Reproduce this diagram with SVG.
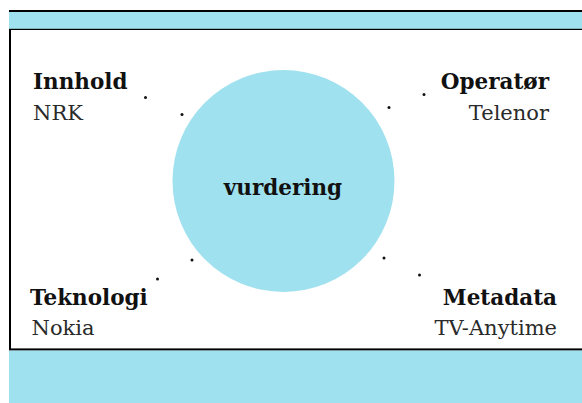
<svg xmlns="http://www.w3.org/2000/svg" width="582" height="403" viewBox="0 0 582 403">
<style>
.band{fill:#9fe1ef}
.edge{fill:#000}
.b{font-family:"DejaVu Serif","Liberation Serif",serif;font-weight:bold;font-size:21.5px;fill:#111}
.r{font-family:"DejaVu Serif","Liberation Serif",serif;font-size:21px;fill:#2a2a2a}
.dot{fill:#111}
</style>
<rect width="582" height="403" fill="#fff"/>
<g id="frame">
<rect class="edge" x="9" y="10" width="573" height="2"/>
<rect class="band" x="9" y="12" width="573" height="17"/>
<rect class="edge" x="9" y="28.8" width="573" height="1.2"/>
<rect class="edge" x="9" y="29" width="2" height="321"/>
<rect class="edge" x="9" y="348.4" width="573" height="2.2"/>
<rect class="band" x="9" y="350.6" width="573" height="52.4"/>
</g>
<g id="connectors">
<circle class="dot" cx="145.5" cy="97.5" r="1.5"/>
<circle class="dot" cx="182" cy="114.5" r="1.5"/>
<circle class="dot" cx="389" cy="107.5" r="1.5"/>
<circle class="dot" cx="424" cy="94.5" r="1.5"/>
<circle class="dot" cx="192" cy="260" r="1.5"/>
<circle class="dot" cx="157.5" cy="279" r="1.5"/>
<circle class="dot" cx="384" cy="258" r="1.5"/>
<circle class="dot" cx="419.5" cy="275" r="1.5"/>
</g>
<g id="vurdering">
<circle cx="283.5" cy="181" r="111" fill="#a0e1ef"/>
<text class="b" x="283" y="195" text-anchor="middle">vurdering</text>
</g>
<g id="innhold">
<text class="b" x="33" y="89">Innhold</text>
<text class="r" x="33" y="120">NRK</text>
</g>
<g id="operator">
<text class="b" x="549" y="89" text-anchor="end">Operatør</text>
<text class="r" x="549" y="120" text-anchor="end">Telenor</text>
</g>
<g id="teknologi">
<text class="b" x="30" y="305">Teknologi</text>
<text class="r" x="31.5" y="335">Nokia</text>
</g>
<g id="metadata">
<text class="b" x="557" y="305" text-anchor="end">Metadata</text>
<text class="r" x="557" y="335" text-anchor="end">TV-Anytime</text>
</g>
</svg>
